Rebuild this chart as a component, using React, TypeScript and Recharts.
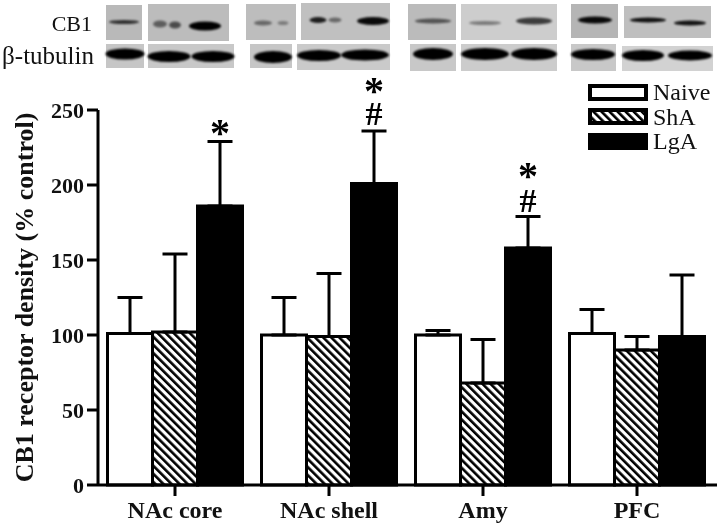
import React from "react";
import { BarChart, Bar, XAxis, YAxis, ErrorBar, Legend, ReferenceDot, Customized } from "recharts";

const regions = ["NAc core", "NAc shell", "Amy", "PFC"];
const naive = [101, 100, 100, 101];
const naiveErr = [24, 25, 3, 16];
const sha = [102, 99, 68, 90];
const shaErr = [52, 42, 29, 9];
const lga = [186, 201, 158, 99];
const lgaErr = [43, 35, 21, 41];
const yTicks = [0, 50, 100, 150, 200, 250];
const groupNames = ["Naive", "ShA", "LgA"];
const marks = [
  { region: "NAc core", level: 238, text: "*" },
  { region: "NAc shell", level: 266, text: "*" },
  { region: "NAc shell", level: 248, text: "#" },
  { region: "Amy", level: 209, text: "*" },
  { region: "Amy", level: 190, text: "#" },
];

const rows = regions.map((region, i) => ({
  region,
  naive: naive[i],
  naiveE: [0, naiveErr[i]],
  sha: sha[i],
  shaE: [0, shaErr[i]],
  lga: lga[i],
  lgaE: [0, lgaErr[i]],
}));

const SERIF = "'Liberation Serif', serif";
const fills = ["#ffffff", "url(#hatch)", "#000000"];

// blot decoration: [x, y, w, h, shade, bands [cx, cy, w, h, opacity]]
type Panel = [number, number, number, number, string, number[][]];
const cb1Panels: Panel[] = [
  [106, 5, 36, 35, "#b9b9b9", [[124, 22, 30, 4, 0.75]]],
  [148, 4, 81, 37, "#bcbcbc", [[160, 24, 14, 7, 0.5], [175, 25, 12, 7, 0.6], [205, 26, 32, 9, 1]]],
  [246, 4, 50, 36, "#bdbdbd", [[263, 23, 18, 5, 0.45], [283, 23, 11, 4, 0.35]]],
  [301, 3, 89, 37, "#c0c0c0", [[318, 20, 17, 6, 0.85], [335, 20, 13, 5, 0.45], [373, 21, 32, 8, 0.95]]],
  [408, 4, 48, 36, "#bbbbbb", [[433, 21, 36, 5, 0.55]]],
  [461, 4, 96, 36, "#cdcdcd", [[485, 23, 32, 4, 0.4], [534, 21, 36, 7, 0.7]]],
  [571, 4, 47, 34, "#b5b5b5", [[595, 20, 34, 7, 0.95]]],
  [624, 6, 87, 32, "#bfbfbf", [[648, 20, 36, 5, 0.9], [690, 23, 32, 5, 0.9]]],
];
const tubulinPanels: Panel[] = [
  [106, 44, 38, 24, "#c6c6c6", [[125, 54, 39, 11, 1]]],
  [148, 44, 86, 24, "#c8c8c8", [[169, 56.5, 43, 11, 1], [213, 56.5, 43, 11, 1]]],
  [250, 44, 42, 24, "#c6c6c6", [[273, 57, 38, 12, 1]]],
  [297, 44, 93, 26, "#cacaca", [[319, 55.5, 44, 11, 1], [365, 55, 48, 11, 1]]],
  [410, 44, 46, 27, "#c8c8c8", [[433, 54, 40, 12, 1]]],
  [461, 44, 96, 27, "#cccccc", [[485, 54, 48, 12, 1], [534, 54, 46, 12, 1]]],
  [571, 44, 45, 27, "#c8c8c8", [[593, 54.5, 44, 11, 1]]],
  [622, 46, 91, 25, "#d2d2d2", [[643, 55.5, 42, 11, 1], [690, 55.5, 44, 10, 1]]],
];

function Blots() {
  return (
    <g>
      <defs>
        <filter id="soft" x="-30%" y="-60%" width="160%" height="220%">
          <feGaussianBlur stdDeviation="1.1" />
        </filter>
      </defs>
      {[...cb1Panels, ...tubulinPanels].map((p, i) => (
        <g key={i}>
          <rect x={p[0]} y={p[1]} width={p[2]} height={p[3]} fill={p[4]} />
          {p[5].map((b, j) => (
            <ellipse key={j} cx={b[0]} cy={b[1]} rx={b[2] / 2} ry={b[3] / 2} fill="#000" opacity={b[4]} filter="url(#soft)" />
          ))}
        </g>
      ))}
      <text x={92} y={31} textAnchor="end" fontFamily={SERIF} fontSize={22} fill="#111">CB1</text>
      <text x={94} y={64} textAnchor="end" fontFamily={SERIF} fontSize={25} fill="#111">β-tubulin</text>
    </g>
  );
}

function LegendBox() {
  return (
    <div style={{ display: "flex", flexDirection: "column" }}>
      {groupNames.map((name, i) => (
        <div key={name} style={{ display: "flex", alignItems: "center", height: 24.5 }}>
          <svg width={60} height={17} style={{ display: "block" }}>
            <rect x={2} y={2} width={56} height={13} fill={fills[i]} stroke="#000" strokeWidth={4} />
          </svg>
          <span style={{ marginLeft: 5, fontFamily: SERIF, fontSize: 24, color: "#111", lineHeight: "24px" }}>{name}</span>
        </div>
      ))}
    </div>
  );
}

function markShape(text: string) {
  return (props: any) => (
    <text
      x={props.cx + 45}
      y={props.cy}
      textAnchor="middle"
      dominantBaseline="central"
      fontFamily={SERIF}
      fontWeight="bold"
      fontSize={text === "*" ? 40 : 34}
      dy={text === "*" ? 4 : 0}
      fill="#000"
    >
      {text}
    </text>
  );
}

export default function App() {
  return (
    <div style={{ position: "absolute", left: 0, top: 0, width: 720, height: 526, background: "#fff", filter: "blur(0.4px)" }}>
      <BarChart
        width={720}
        height={526}
        data={rows}
        margin={{ top: 110, right: 3, bottom: 0, left: 0 }}
        barGap={0}
        barCategoryGap={9.5}
      >
        <defs>
          <pattern id="hatch" patternUnits="userSpaceOnUse" width={5.7} height={5.7} patternTransform="rotate(-45)">
            <rect width={5.7} height={5.7} fill="#fff" />
            <rect width={2.6} height={5.7} fill="#000" />
          </pattern>
        </defs>
        <Customized component={Blots} />
        <XAxis
          dataKey="region"
          height={41}
          padding={{ left: 0, right: 3 }}
          axisLine={{ stroke: "#000", strokeWidth: 3 }}
          tickLine={{ stroke: "#000", strokeWidth: 3 }}
          tickSize={11}
          tick={{ fontFamily: SERIF, fontWeight: "bold", fontSize: 24, fill: "#111" }}
          tickMargin={5}
          interval={0}
        />
        <YAxis
          width={98}
          domain={[0, 250]}
          ticks={yTicks}
          axisLine={{ stroke: "#000", strokeWidth: 3 }}
          tickLine={{ stroke: "#000", strokeWidth: 3 }}
          tickSize={11}
          tickMargin={3}
          tick={{ fontFamily: SERIF, fontWeight: "bold", fontSize: 22, fill: "#111" }}
          label={{
            value: "CB1 receptor density (% control)",
            angle: -90,
            position: "insideLeft",
            offset: 24,
            style: { textAnchor: "middle", fontFamily: SERIF, fontWeight: "bold", fontSize: 26, fill: "#111" },
          }}
        />
        <Legend
          content={<LegendBox />}
          layout="horizontal"
          verticalAlign="middle"
          align="center"
          wrapperStyle={{ left: 588, top: 80, width: 130 }}
        />
        <Bar dataKey="naive" name="Naive" fill={fills[0]} stroke="#000" strokeWidth={3} isAnimationActive={false}>
          <ErrorBar dataKey="naiveE" width={12.5} stroke="#000" strokeWidth={3} direction="y" isAnimationActive={false} />
        </Bar>
        <Bar dataKey="sha" name="ShA" fill={fills[1]} stroke="#000" strokeWidth={3} isAnimationActive={false}>
          <ErrorBar dataKey="shaE" width={12.5} stroke="#000" strokeWidth={3} direction="y" isAnimationActive={false} />
        </Bar>
        <Bar dataKey="lga" name="LgA" fill={fills[2]} stroke="#000" strokeWidth={3} isAnimationActive={false}>
          <ErrorBar dataKey="lgaE" width={12.5} stroke="#000" strokeWidth={3} direction="y" isAnimationActive={false} />
        </Bar>
        {marks.map((m, i) => (
          <ReferenceDot key={i} x={m.region} y={m.level} ifOverflow="visible" shape={markShape(m.text)} />
        ))}
      </BarChart>
    </div>
  );
}
